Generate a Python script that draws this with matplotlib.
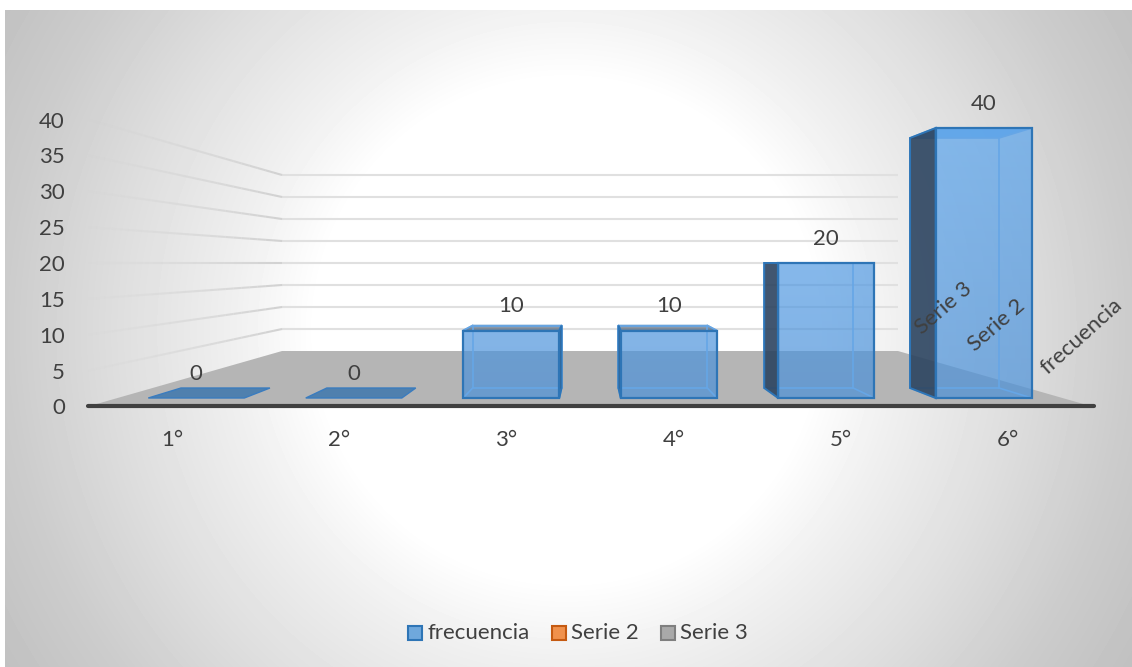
import numpy as np
import matplotlib
matplotlib.use("Agg")
import matplotlib.pyplot as plt
from matplotlib.colors import to_rgb
from matplotlib.patches import Polygon, Rectangle

categories = ["1°", "2°", "3°", "4°", "5°", "6°"]
frecuencia = [0, 0, 10, 10, 20, 40]
y_ticks = [0, 5, 10, 15, 20, 25, 30, 35, 40]
depth_labels = ["Serie 3", "Serie 2", "frecuencia"]
legend_names = ["frecuencia", "Serie 2", "Serie 3"]
legend_colors = [("#6fa8dc", "#2e75b6"), ("#f0914c", "#c55a11"), ("#a9a9a9", "#7f7f7f")]

W, H = 1132, 667
TEXT = "#404040"
FS = 16
plt.rcParams["font.family"] = ["Lato", "DejaVu Sans"]

# perspective: vanishing point plus pixels per unit at each depth plane
VX, VY = 590, 263
V_MID = 20
S_WALL_FRONT, S_BAR_FRONT, S_BAR_BACK, S_WALL_BACK = 7.17, 6.75, 6.25, 4.4
CAT_STEP = 23.33
BAR_HALF = 0.305


def proj(cat, value, s):
    # cat is measured in categories from the centre of the floor
    return VX + cat * CAT_STEP * s, VY - (value - V_MID) * s


fig = plt.figure(figsize=(W / 100, H / 100), dpi=100)
ax = fig.add_axes([0, 0, 1, 1])
ax.set_xlim(0, W)
ax.set_ylim(H, 0)
ax.set_autoscale_on(False)
ax.axis("off")

# chart area background, white in the middle and grey towards the corners
yy, xx = np.mgrid[0:H, 0:W]
r = np.hypot(xx - 566, yy - 330)
shade = np.interp(r, [0, 250, 330, 450, 560, 660], [255, 255, 240, 222, 204, 192])
bg = ax.imshow(shade, cmap="gray", vmin=0, vmax=255, extent=(0, W, H, 0), aspect="auto", zorder=0)
bg.set_clip_path(Rectangle((5, 10), W - 5, H - 10, transform=ax.transData))

# floor
ax.add_patch(Polygon([proj(-3, 0, S_WALL_FRONT), proj(3, 0, S_WALL_FRONT),
                      proj(3, 0, S_WALL_BACK), proj(-3, 0, S_WALL_BACK)],
                     fc="#b5b5b5", ec="none", zorder=1))

# back wall gridlines, and the side wall ones fading out towards the front
for v in y_ticks[1:]:
    x0, y0 = proj(-3, v, S_WALL_BACK)
    x1, y1 = proj(3, v, S_WALL_BACK)
    ax.plot([x0, x1], [y0, y1], color="#e0e0e0", lw=1.5, zorder=2, solid_capstyle="butt")
    xf, yf = proj(-3, v, S_WALL_FRONT)
    ts = np.linspace(0, 1, 25)
    for a, b in zip(ts[:-1], ts[1:]):
        ax.plot([x0 + (xf - x0) * a, x0 + (xf - x0) * b], [y0 + (yf - y0) * a, y0 + (yf - y0) * b],
                color="#d2d2d2", alpha=1 - a, lw=1.5, zorder=2, solid_capstyle="butt")

# axis line along the front of the floor
ax.plot([proj(-3, 0, S_WALL_FRONT)[0], proj(3, 0, S_WALL_FRONT)[0] + 2], [proj(0, 0, S_WALL_FRONT)[1]] * 2,
        color="#404040", lw=3, zorder=3, solid_capstyle="round")

# value axis labels
for v in y_ticks:
    ax.text(65, proj(0, v, S_WALL_FRONT)[1] + 2, str(v), ha="right", va="center", fontsize=FS, color=TEXT)

# category labels
for i, name in enumerate(categories):
    ax.text(proj(i - 2.5, 0, S_WALL_FRONT)[0], 440, name, ha="center", va="center", fontsize=FS, color=TEXT)

# bars
FACE_TOP = np.array(to_rgb("#5aa5ee"))
FACE_BOTTOM = np.array(to_rgb("#4a90d8"))
FACE = "#4f9ae4"
DARK = "#2c4460"
INNER = "#66a6e6"
EDGE = "#2e75b6"
for i, val in enumerate(frecuencia):
    c = i - 2.5
    l, r_ = c - BAR_HALF, c + BAR_HALF
    fbl, fbr = proj(l, 0, S_BAR_FRONT), proj(r_, 0, S_BAR_FRONT)
    ftl, ftr = proj(l, val, S_BAR_FRONT), proj(r_, val, S_BAR_FRONT)
    bbl, bbr = proj(l, 0, S_BAR_BACK), proj(r_, 0, S_BAR_BACK)
    btl, btr = proj(l, val, S_BAR_BACK), proj(r_, val, S_BAR_BACK)

    if val == 0:
        ax.add_patch(Polygon([fbl, fbr, bbr, bbl], fc="#4f80ae", ec="#3a7cbf", lw=1, zorder=4))
    else:
        # the top is only seen from above when it sits under eye level
        if val < V_MID:
            ax.add_patch(Polygon([ftl, ftr, btr, btl], fc=DARK, ec=EDGE, lw=1.3, alpha=0.55, zorder=5))
        else:
            ax.add_patch(Polygon([ftl, ftr, btr, btl], fc=FACE, ec="none", alpha=0.7, zorder=5))

        # front face, going slightly darker down the chart
        rows = np.linspace(ftl[1], fbl[1], 64)
        t = ((rows - 127) / 271)[:, None]
        rgba = np.zeros((64, 1, 4))
        rgba[:, 0, :3] = FACE_TOP * (1 - t) + FACE_BOTTOM * t
        rgba[:, 0, 3] = 0.7
        front_img = ax.imshow(rgba, extent=(ftl[0], ftr[0], fbl[1], ftl[1]), aspect="auto", zorder=6,
                              interpolation="bilinear")
        front_img.set_clip_path(Polygon([fbl, fbr, ftr, ftl], transform=ax.transData))

        # inner edges show through the front face
        ax.add_patch(Polygon([bbl, bbr, btr, btl], fc="none", ec=INNER, lw=1.2, zorder=7))
        for p, q in [(fbl, bbl), (fbr, bbr), (ftl, btl), (ftr, btr)]:
            ax.plot([p[0], q[0]], [p[1], q[1]], color=INNER, lw=1.2, zorder=7)

        # the side turned towards the middle of the chart is in shadow
        if c > 0:
            side = [fbl, bbl, btl, ftl]
        else:
            side = [fbr, bbr, btr, ftr]
        ax.add_patch(Polygon(side, fc=DARK, ec="none", alpha=0.9, zorder=7.5))
        ax.add_patch(Polygon(side, fc="none", ec=EDGE, lw=1.4, zorder=8))
        ax.add_patch(Polygon([fbl, fbr, ftr, ftl], fc="none", ec=EDGE, lw=1.6, zorder=8))

    lx, ly = proj(c, val, S_BAR_FRONT)
    ax.text(lx, ly - 24, str(val), ha="center", va="center", fontsize=FS, color=TEXT, zorder=9)

# series names along the right side wall
ax.text(944, 308, depth_labels[0], rotation=41, ha="center", va="center", fontsize=FS, color=TEXT, zorder=9)
ax.text(997, 325, depth_labels[1], rotation=41, ha="center", va="center", fontsize=FS, color=TEXT, zorder=9)
ax.text(1081, 336, depth_labels[2], rotation=42, ha="center", va="center", fontsize=FS, color=TEXT, zorder=9)

# legend
swatch_x = [408, 552, 661]
for sx, name, (fc, ec) in zip(swatch_x, legend_names, legend_colors):
    ax.add_patch(Rectangle((sx, 626), 14, 14, fc=fc, ec=ec, lw=1.5, zorder=8))
    ax.text(sx + 19, 633, name, ha="left", va="center", fontsize=FS, color=TEXT, zorder=9)

fig.savefig("out.png", dpi=100)
